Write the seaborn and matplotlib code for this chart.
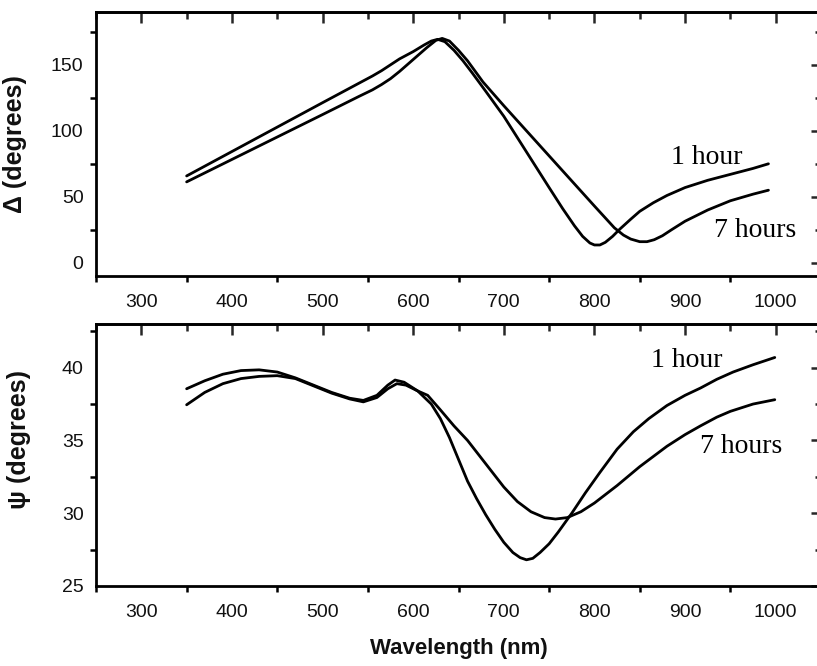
import matplotlib
matplotlib.use("Agg")
import matplotlib.pyplot as plt
from matplotlib.ticker import MultipleLocator
import seaborn as sns
import pandas as pd

# Ellipsometric angles versus wavelength, after 1 hour and 7 hours
wl_delta_1h = [350, 400, 450, 500, 540, 555, 565, 575, 585, 600, 612, 620, 627, 635,
               645, 655, 665, 680, 700, 725, 750, 765, 778, 787, 795, 800, 806, 812,
               820, 828, 840, 850, 865, 880, 900, 925, 950, 975, 992]
delta_1h = [65.8, 84.3, 102.8, 121.3, 136, 141.5, 145.5, 150, 154.5, 160, 165, 168,
            169.3, 167.5, 161, 153, 144, 130, 111, 84, 57, 41, 28, 20, 15, 13.5, 13.5,
            15.5, 20, 25.5, 33, 39, 45.5, 51, 57, 62.5, 67, 71.5, 75]

wl_delta_7h = [350, 400, 450, 500, 540, 555, 565, 575, 585, 600, 615, 625, 632, 640,
               650, 660, 677, 700, 725, 750, 775, 800, 812, 822, 832, 840, 850, 858,
               866, 875, 885, 900, 925, 950, 975, 992]
delta_7h = [61.3, 78.3, 95.3, 112.3, 126, 131, 135, 139.5, 145, 154, 163, 168.5, 170,
            168, 161, 153, 137, 119, 100, 81, 62, 43, 34, 26.5, 21, 18, 16, 16, 17.5,
            20.5, 25, 31.5, 40, 47, 52, 55]

wl_psi_1h = [350, 370, 390, 410, 430, 450, 470, 490, 510, 530, 545, 560, 572, 580,
             590, 605, 620, 630, 640, 650, 660, 670, 680, 690, 700, 710, 718, 725,
             732, 740, 750, 760, 775, 790, 806, 825, 843, 860, 880, 900, 917, 935,
             953, 975, 999]
psi_1h = [38.55, 39.1, 39.55, 39.8, 39.85, 39.7, 39.3, 38.8, 38.3, 37.9, 37.75, 38.1,
          38.8, 39.15, 39.0, 38.4, 37.5, 36.5, 35.2, 33.7, 32.2, 31.0, 29.9, 28.9,
          28.0, 27.3, 26.95, 26.8, 26.9, 27.3, 27.9, 28.7, 30.0, 31.4, 32.8, 34.4,
          35.6, 36.5, 37.4, 38.1, 38.6, 39.2, 39.7, 40.2, 40.7]

wl_psi_7h = [350, 370, 390, 410, 430, 450, 470, 490, 510, 530, 545, 560, 572, 582,
             592, 605, 616, 630, 645, 660, 680, 700, 715, 730, 745, 757, 770, 785,
             800, 825, 850, 880, 900, 917, 935, 950, 975, 999]
psi_7h = [37.45, 38.3, 38.9, 39.25, 39.4, 39.45, 39.25, 38.75, 38.25, 37.85, 37.65,
          37.95, 38.55, 38.9, 38.8, 38.4, 38.1, 37.1, 36.0, 35.0, 33.4, 31.8, 30.8,
          30.1, 29.7, 29.6, 29.7, 30.1, 30.7, 31.9, 33.2, 34.6, 35.4, 36.0, 36.6,
          37.0, 37.5, 37.8]

series_names = ["1 hour", "7 hours"]

delta_df = pd.concat([
    pd.DataFrame({"wavelength": wl_delta_1h, "value": delta_1h, "series": series_names[0]}),
    pd.DataFrame({"wavelength": wl_delta_7h, "value": delta_7h, "series": series_names[1]}),
])
psi_df = pd.concat([
    pd.DataFrame({"wavelength": wl_psi_1h, "value": psi_1h, "series": series_names[0]}),
    pd.DataFrame({"wavelength": wl_psi_7h, "value": psi_7h, "series": series_names[1]}),
])

sns.set_theme(style="white")
plt.rcParams["font.family"] = ["Liberation Sans", "DejaVu Sans"]
plt.rcParams["axes.linewidth"] = 2.0
plt.rcParams["lines.solid_joinstyle"] = "round"

W, H = 817, 666
fig = plt.figure(figsize=(W / 100, H / 100), dpi=100)


def frac(left, top, right, bottom):
    return [left / W, 1 - bottom / H, (right - left) / W, (bottom - top) / H]


ax1 = fig.add_axes(frac(96, 12, 821, 276))
ax2 = fig.add_axes(frac(96, 324, 821, 586))

for ax, df in ((ax1, delta_df), (ax2, psi_df)):
    sns.lineplot(data=df, x="wavelength", y="value", hue="series",
                 palette=["black", "black"], linewidth=2.0, sort=False,
                 estimator=None, legend=False, ax=ax)

ax1.set_xlim(250, 1050)
ax1.set_ylim(-10, 190)
ax1.set_yticks([0, 50, 100, 150])
ax1.yaxis.set_minor_locator(MultipleLocator(25))

ax2.set_xlim(250, 1050)
ax2.set_ylim(25, 43)
ax2.set_yticks([25, 30, 35, 40])
ax2.yaxis.set_minor_locator(MultipleLocator(2.5))

xticks = [300, 400, 500, 600, 700, 800, 900, 1000]
for ax in (ax1, ax2):
    ax.set_xticks(xticks)
    ax.xaxis.set_minor_locator(MultipleLocator(50))
    for s in ax.spines.values():
        s.set_color("black")
        s.set_linewidth(2.0)
    ax.tick_params(which="major", direction="out", length=7, width=1.8,
                   color="black", labelsize=14, labelcolor="#111111")
    ax.tick_params(axis="x", which="major", pad=6)
    ax.tick_params(axis="y", which="major", pad=2)
    ax.tick_params(which="minor", direction="out", length=4.5, width=1.8,
                   color="black", bottom=True, left=True)
    ax.set_xlabel("")

    top = ax.secondary_xaxis("top")
    top.set_xticks(xticks)
    top.xaxis.set_minor_locator(MultipleLocator(50))
    top.tick_params(which="major", direction="in", length=8, width=1.8, labeltop=False)
    top.tick_params(which="minor", direction="in", length=5, width=1.8)
    top.spines["top"].set_linewidth(2.0)

    right = ax.secondary_yaxis("right")
    right.set_yticks(ax.get_yticks())
    right.yaxis.set_minor_locator(ax.yaxis.get_minor_locator())
    right.tick_params(which="major", direction="in", length=7, width=1.8, labelright=False)
    right.tick_params(which="minor", direction="in", length=4.5, width=1.8)

ax1.set_ylabel("\u0394 (degrees)", fontsize=18, fontweight="bold", color="#111111")
ax1.yaxis.set_label_coords(-0.095, 0.5)
ax2.set_ylabel("\u03c8 (degrees)", fontsize=18, fontweight="bold", color="#111111")
ax2.yaxis.set_label_coords(-0.09, 0.56)
ax2.set_xlabel("Wavelength (nm)", fontsize=16, fontweight="bold", color="#111111")
ax2.xaxis.set_label_coords(0.5, -0.2)

serif = dict(family=["Liberation Serif", "DejaVu Serif"], fontsize=20,
             color="black", va="center", ha="left")
ax1.text(885, 80, series_names[0], **serif)
ax1.text(932, 24.5, series_names[1], **serif)
ax2.text(862, 40.5, series_names[0], **serif)
ax2.text(917, 34.55, series_names[1], **serif)

fig.savefig("out.png", dpi=100, facecolor="white")
